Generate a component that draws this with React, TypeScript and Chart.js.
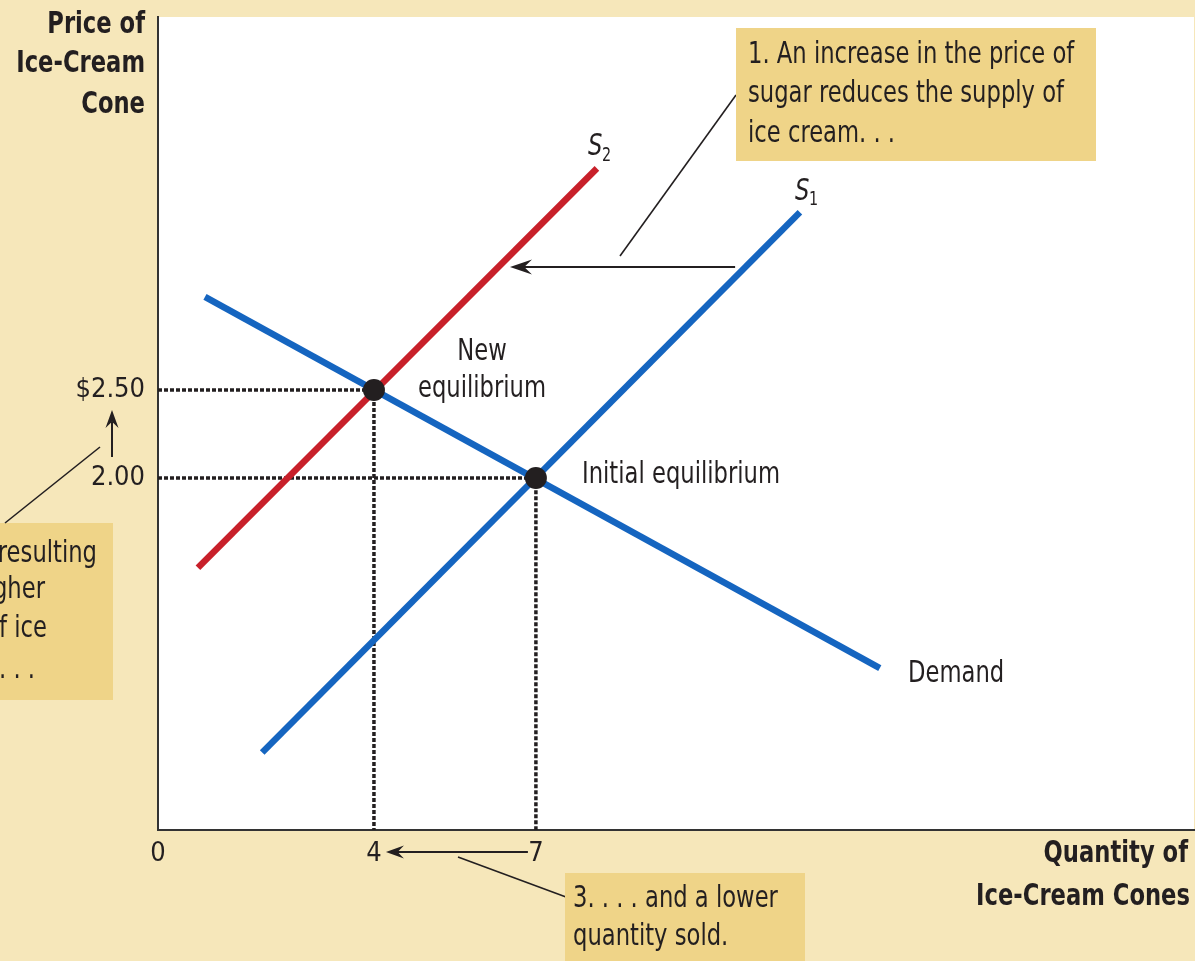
import React, { useEffect, useRef } from "react";
import { Chart, registerables } from "chart.js";

Chart.register(...registerables);

// ---- Data (quantity of cones on x, price in $ on y) ----
const demandQty = [0.87, 13.37];
const demandPrice = [3.03, 0.92];
const supply1Qty = [1.93, 11.89];
const supply1Price = [0.44, 3.51];
const supply2Qty = [0.74, 8.13];
const supply2Price = [1.49, 3.76];
const equilibriumQty = [4, 7];
const equilibriumPrice = [2.5, 2.0];
const xTickValues = [0, 4, 7];
const yTickValues = [2.0, 2.5];
const yTickLabels = ["2.00", "$2.50"];
const xAxisMax = 19.19;
const yAxisMax = 4.62;
// supply-shift arrow (price level, from quantity, to quantity)
const shiftArrowPrice = 3.2;
const shiftArrowFromQty = 10.69;
const shiftArrowToQty = 6.52;

const FONT = "'DejaVu Sans Condensed', 'Liberation Sans Narrow', 'Open Sans', sans-serif";
const INK = "#231F20";
const BLUE = "#1565C0";
const RED = "#C8202A";
const BEIGE = "#F6E7BA";
const BOXFILL = "#EFD488";
const SQUEEZE = 0.84;

const pts = (xs: number[], ys: number[]) => xs.map((x, i) => ({ x, y: ys[i] }));

function text(
  ctx: CanvasRenderingContext2D,
  s: string,
  x: number,
  y: number,
  align: CanvasTextAlign,
  font: string,
  sx = SQUEEZE
) {
  ctx.save();
  ctx.translate(x, y);
  ctx.scale(sx, 1);
  ctx.font = font;
  ctx.fillStyle = INK;
  ctx.textAlign = align;
  ctx.textBaseline = "alphabetic";
  ctx.fillText(s, 0, 0);
  ctx.restore();
}

function arrowHead(ctx: CanvasRenderingContext2D, x: number, y: number, angle: number, len = 22, half = 7.5) {
  ctx.save();
  ctx.translate(x, y);
  ctx.rotate(angle);
  ctx.beginPath();
  ctx.moveTo(0, 0);
  ctx.lineTo(-len, -half);
  ctx.lineTo(-len * 0.65, 0);
  ctx.lineTo(-len, half);
  ctx.closePath();
  ctx.fillStyle = INK;
  ctx.fill();
  ctx.restore();
}

function line(ctx: CanvasRenderingContext2D, x1: number, y1: number, x2: number, y2: number, w = 1.8) {
  ctx.beginPath();
  ctx.moveTo(x1, y1);
  ctx.lineTo(x2, y2);
  ctx.lineWidth = w;
  ctx.strokeStyle = INK;
  ctx.stroke();
}

const backgroundPlugin = {
  id: "bgPlugin",
  beforeDraw(chart: any) {
    const { ctx, chartArea: a, width, height } = chart;
    ctx.save();
    ctx.fillStyle = BEIGE;
    ctx.fillRect(0, 0, width, height);
    ctx.fillStyle = "#FFFFFF";
    ctx.fillRect(a.left, a.top, a.right - a.left, a.bottom - a.top);
    ctx.restore();
  },
};

const annotationPlugin = {
  id: "annotations",
  afterDraw(chart: any) {
    const { ctx } = chart;
    const xs = chart.scales.x;
    const ys = chart.scales.y;
    ctx.save();

    const bold = `bold 30px ${FONT}`;
    const reg = `30px ${FONT}`;

    // Axis titles
    text(ctx, "Price of", 145, 33, "right", bold);
    text(ctx, "Ice-Cream", 145, 72, "right", bold);
    text(ctx, "Cone", 145, 113, "right", bold);
    text(ctx, "Quantity of", 1188, 862, "right", bold);
    text(ctx, "Ice-Cream Cones", 1190, 905, "right", bold);

    // Curve labels
    text(ctx, "New", 482, 360, "center", reg);
    text(ctx, "equilibrium", 482, 397, "center", reg);
    text(ctx, "Initial equilibrium", 582, 483, "left", reg);
    text(ctx, "Demand", 908, 682, "left", reg);

    text(ctx, "S", 588, 155, "left", `italic 30px ${FONT}`);
    text(ctx, "S", 795, 200, "left", `italic 30px ${FONT}`);
    text(ctx, "2", 602, 161, "left", `19px ${FONT}`);
    text(ctx, "1", 809, 205, "left", `19px ${FONT}`);

    // Supply shift arrow
    const ay = ys.getPixelForValue(shiftArrowPrice);
    const ax1 = xs.getPixelForValue(shiftArrowFromQty);
    const ax2 = xs.getPixelForValue(shiftArrowToQty);
    line(ctx, ax1, ay, ax2 + 12, ay, 2);
    arrowHead(ctx, ax2, ay, Math.PI);
    line(ctx, 620, 256, 736, 95, 1.6);

    // Box 1
    ctx.fillStyle = BOXFILL;
    ctx.fillRect(736, 28, 360, 133);
    text(ctx, "1. An increase in the price of", 748, 63, "left", reg);
    text(ctx, "sugar reduces the supply of", 748, 102, "left", reg);
    text(ctx, "ice cream. . .", 748, 142, "left", reg);

    // Box 2 (clipped at left edge)
    ctx.fillStyle = BOXFILL;
    ctx.fillRect(0, 523, 113, 177);
    text(ctx, "resulting", 97, 562, "right", reg);
    text(ctx, "gher", 45, 598, "right", reg);
    text(ctx, "f ice", 47, 637, "right", reg);
    text(ctx, ". . .", 35, 678, "right", reg);
    line(ctx, 5, 523, 100, 447, 1.6);
    line(ctx, 112, 457, 112, 422, 2);
    arrowHead(ctx, 112, 410, -Math.PI / 2, 18, 6.5);

    // Quantity arrow 7 -> 4
    const qy = 852;
    const qx1 = xs.getPixelForValue(equilibriumQty[1]) - 8;
    const qx2 = xs.getPixelForValue(equilibriumQty[0]) + 12;
    line(ctx, qx1, qy, qx2 + 10, qy, 2);
    arrowHead(ctx, qx2, qy, Math.PI, 18, 6.5);
    line(ctx, 458, 857, 566, 897, 1.6);

    // Box 3
    ctx.fillStyle = BOXFILL;
    ctx.fillRect(565, 873, 240, 100);
    text(ctx, "3. . . . and a lower", 573, 907, "left", reg);
    text(ctx, "quantity sold.", 573, 945, "left", reg);

    ctx.restore();
  },
};

export default function App() {
  const canvasRef = useRef<HTMLCanvasElement | null>(null);

  useEffect(() => {
    document.body.style.margin = "0";
    const canvas = canvasRef.current;
    if (!canvas) return;

    const guide = (q: number, p: number) => ({
      data: [
        { x: 0, y: p },
        { x: q, y: p },
        { x: q, y: 0 },
      ],
      showLine: true,
      borderColor: INK,
      borderWidth: 3.5,
      borderDash: [4, 2],
      pointRadius: 0,
      order: 3,
    });

    const chart = new Chart(canvas, {
      type: "scatter",
      data: {
        datasets: [
          {
            label: "Equilibria",
            data: pts(equilibriumQty, equilibriumPrice),
            pointRadius: 11,
            pointBackgroundColor: INK,
            pointBorderWidth: 0,
            showLine: false,
            order: 0,
          },
          {
            label: "S2",
            data: pts(supply2Qty, supply2Price),
            showLine: true,
            borderColor: RED,
            borderWidth: 6.5,
            pointRadius: 0,
            order: 1,
          },
          {
            label: "Demand",
            data: pts(demandQty, demandPrice),
            showLine: true,
            borderColor: BLUE,
            borderWidth: 6.5,
            pointRadius: 0,
            order: 1,
          },
          {
            label: "S1",
            data: pts(supply1Qty, supply1Price),
            showLine: true,
            borderColor: BLUE,
            borderWidth: 6.5,
            pointRadius: 0,
            order: 1,
          },
          { label: "new", ...guide(equilibriumQty[0], equilibriumPrice[0]) },
          { label: "initial", ...guide(equilibriumQty[1], equilibriumPrice[1]) },
        ] as any,
      },
      options: {
        animation: false,
        responsive: false,
        devicePixelRatio: 1,
        layout: { autoPadding: false, padding: { top: 17, right: 1, left: 0, bottom: 0 } },
        plugins: {
          legend: { display: false },
          tooltip: { enabled: false },
          title: { display: false },
        },
        scales: {
          x: {
            type: "linear",
            min: 0,
            max: xAxisMax,
            grid: { display: false, drawTicks: false },
            border: { display: true, color: "#333333", width: 2 },
            afterBuildTicks: (scale: any) => {
              scale.ticks = xTickValues.map((v) => ({ value: v }));
            },
            afterFit: (scale: any) => {
              scale.height = 131;
              scale.paddingLeft = 0;
              scale.paddingRight = 0;
            },
            ticks: {
              autoSkip: false,
              maxRotation: 0,
              padding: 8,
              color: INK,
              font: { family: FONT, size: 27 },
              callback: (v: any) => String(v),
            },
          },
          y: {
            type: "linear",
            min: 0,
            max: yAxisMax,
            grid: { display: false, drawTicks: false },
            border: { display: true, color: "#333333", width: 2 },
            afterBuildTicks: (scale: any) => {
              scale.ticks = yTickValues.map((v) => ({ value: v }));
            },
            afterFit: (scale: any) => {
              scale.width = 158;
              scale.paddingTop = 0;
              scale.paddingBottom = 0;
            },
            ticks: {
              autoSkip: false,
              padding: 13,
              color: INK,
              font: { family: FONT, size: 27 },
              callback: (v: any) => {
                const i = yTickValues.indexOf(Number(v));
                return i >= 0 ? yTickLabels[i] : "";
              },
            },
          },
        },
      },
      plugins: [backgroundPlugin, annotationPlugin],
    } as any);

    return () => chart.destroy();
  }, []);

  return (
    <div style={{ width: 1195, height: 961, overflow: "hidden" }}>
      <canvas ref={canvasRef} width={1195} height={961} style={{ display: "block", width: 1195, height: 961 }} />
    </div>
  );
}
